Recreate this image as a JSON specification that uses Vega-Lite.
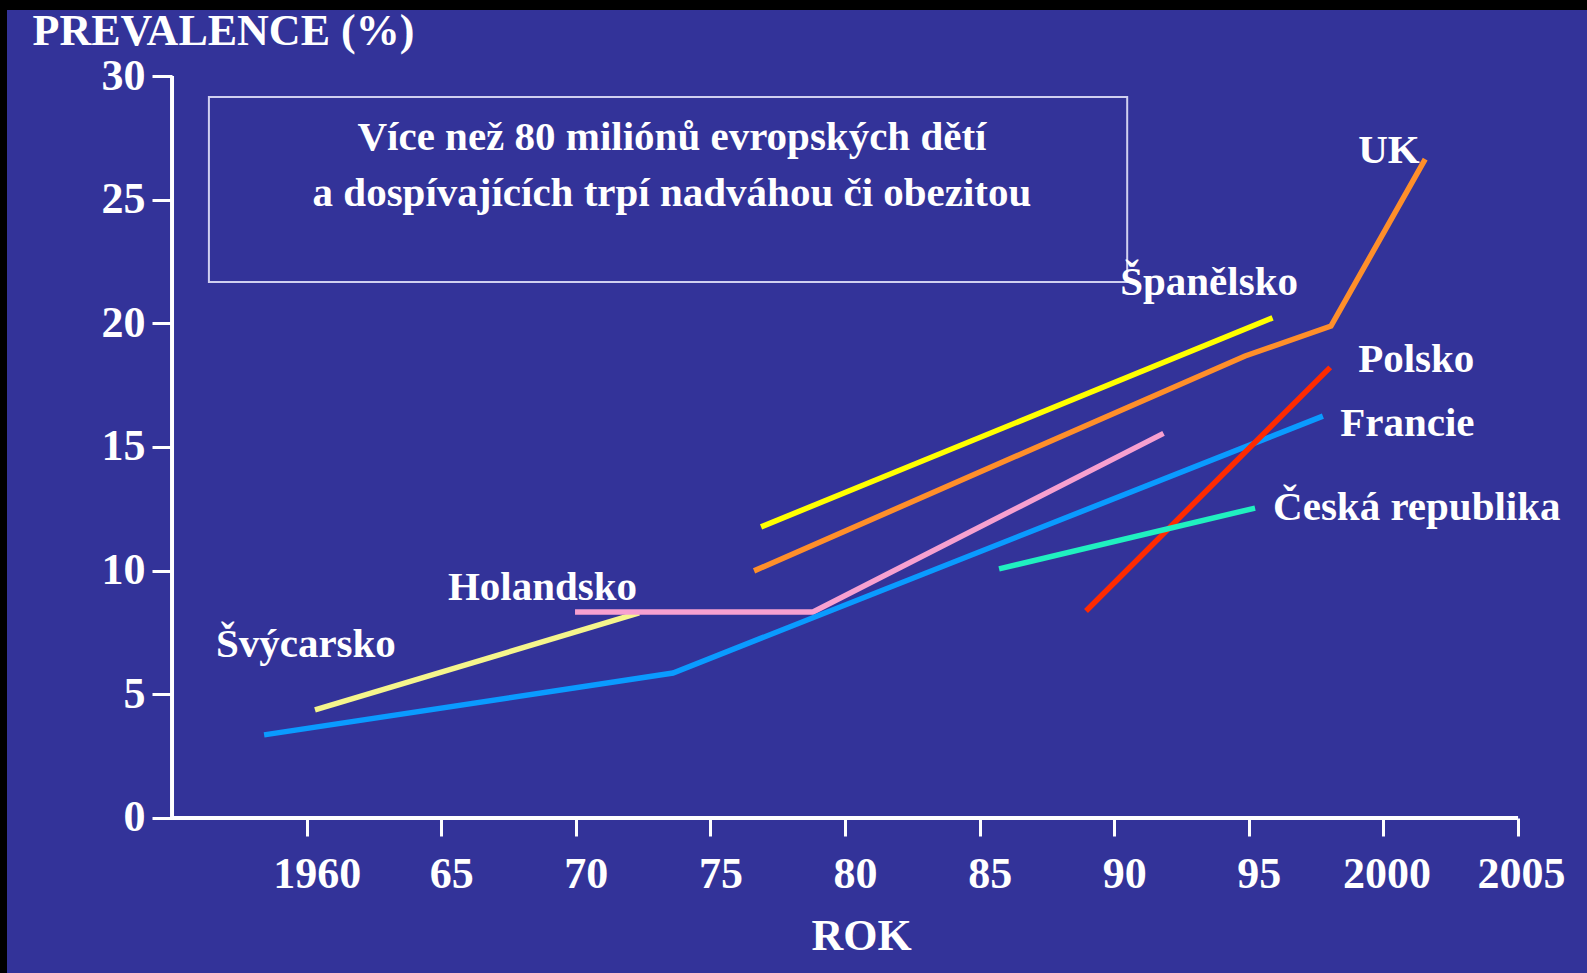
{
  "$schema": "https://vega.github.io/schema/vega-lite/v6.json",
  "width": 1580,
  "height": 963,
  "autosize": {"type": "none"},
  "padding": {"left": 7, "top": 10, "right": 0, "bottom": 0},
  "background": "#000000",
  "config": {
    "view": {"fill": "#333399", "stroke": null},
    "font": "Liberation Serif",
    "text": {"font": "Liberation Serif", "fontWeight": "bold", "color": "#ffffff"}
  },
  "encoding": {
    "x": {
      "field": "x", "type": "quantitative",
      "scale": {"domain": [1948.87, 2007.56], "nice": false, "zero": false},
      "axis": {
        "orient": "bottom", "offset": -155, "domain": false, "grid": false,
        "values": [1960, 1965, 1970, 1975, 1980, 1985, 1990, 1995, 2000, 2005],
        "labelExpr": "datum.value == 1960 || datum.value >= 2000 ? format(datum.value, 'd') : format(datum.value % 100, 'd')",
        "tickSize": 18, "tickWidth": 3, "tickColor": "#ffffff",
        "labelFont": "Liberation Serif", "labelFontWeight": "bold", "labelFontSize": 44, "labelColor": "#ffffff",
        "labelPadding": 16, "labelOverlap": false, "labelFlush": false,
        "labelOffset": {"condition": {"test": "datum.value >= 2000", "value": 3}, "value": 10},
        "title": "ROK", "titleFont": "Liberation Serif", "titleFontWeight": "bold", "titleFontSize": 44, "titleColor": "#ffffff",
        "titleX": 854, "titleY": 118, "titleBaseline": "middle", "titleAlign": "center"
      }
    },
    "y": {
      "field": "y", "type": "quantitative",
      "scale": {"domain": [-6.27, 32.67], "nice": false, "zero": false},
      "axis": {
        "orient": "left", "offset": -165, "domain": false, "grid": false,
        "values": [0, 5, 10, 15, 20, 25, 30],
        "tickSize": 20, "tickWidth": 3, "tickColor": "#ffffff",
        "labelFont": "Liberation Serif", "labelFontWeight": "bold", "labelFontSize": 44, "labelColor": "#ffffff",
        "labelPadding": 7, "labelDy": 5, "labelOverlap": false, "labelFlush": false,
        "title": "PREVALENCE (%)", "titleFont": "Liberation Serif", "titleFontWeight": "bold", "titleFontSize": 44, "titleColor": "#ffffff",
        "titleAngle": 0, "titleAlign": "left", "titleBaseline": "middle", "titleX": -140, "titleY": 21
      }
    }
  },
  "layer": [
    {
      "data": {"values": [{"x": 1956.37, "x2": 1990.48, "y": 29.15, "y2": 21.67}]},
      "mark": {"type": "rect", "fill": null, "fillOpacity": 0, "stroke": "#d0d0f0", "strokeWidth": 2},
      "encoding": {"x2": {"field": "x2"}, "y2": {"field": "y2"}}
    },
    {
      "data": {"values": [
        {"x": 1955, "x2": 2005, "y": 0, "y2": 0},
        {"x": 1955, "x2": 1955, "y": 0, "y2": 30}
      ]},
      "mark": {"type": "rule", "color": "#ffffff", "strokeWidth": 4},
      "encoding": {"x2": {"field": "x2"}, "y2": {"field": "y2"}}
    },
    {
      "data": {"values": [
        {"country": "Švýcarsko", "x": 1960.31, "y": 4.37},
        {"country": "Švýcarsko", "x": 1972.35, "y": 8.29},
        {"country": "Holandsko", "x": 1969.97, "y": 8.33},
        {"country": "Holandsko", "x": 1978.81, "y": 8.33},
        {"country": "Holandsko", "x": 1991.83, "y": 15.55},
        {"country": "Francie", "x": 1958.42, "y": 3.36},
        {"country": "Francie", "x": 1973.61, "y": 5.86},
        {"country": "Francie", "x": 1997.75, "y": 16.25},
        {"country": "Španělsko", "x": 1976.88, "y": 11.77},
        {"country": "Španělsko", "x": 1995.88, "y": 20.22},
        {"country": "UK", "x": 1976.62, "y": 9.99},
        {"country": "UK", "x": 1994.86, "y": 18.68},
        {"country": "UK", "x": 1998.05, "y": 19.89},
        {"country": "UK", "x": 2001.55, "y": 26.64},
        {"country": "Polsko", "x": 1988.95, "y": 8.37},
        {"country": "Polsko", "x": 1998.02, "y": 18.22},
        {"country": "Česká republika", "x": 1985.72, "y": 10.07},
        {"country": "Česká republika", "x": 1995.23, "y": 12.53}
      ]},
      "mark": {"type": "line", "strokeWidth": 5.5, "strokeCap": "butt", "strokeJoin": "miter"},
      "encoding": {
        "color": {
          "field": "country", "type": "nominal", "legend": null,
          "scale": {
            "domain": ["Švýcarsko", "Holandsko", "Francie", "Španělsko", "UK", "Polsko", "Česká republika"],
            "range": ["#f5f58c", "#f7a0d0", "#0a9bff", "#ffff00", "#ff8f2a", "#ff2a00", "#20f0c0"]
          }
        }
      }
    },
    {
      "data": {"values": [
        {"label": "UK", "x": 1999.06, "y": 26.97},
        {"label": "Španělsko", "x": 1990.22, "y": 21.63},
        {"label": "Polsko", "x": 1999.06, "y": 18.52},
        {"label": "Francie", "x": 1998.39, "y": 15.93},
        {"label": "Česká republika", "x": 1995.9, "y": 12.53},
        {"label": "Holandsko", "x": 1965.25, "y": 9.3},
        {"label": "Švýcarsko", "x": 1956.63, "y": 6.99}
      ]},
      "mark": {"type": "text", "align": "left", "baseline": "middle", "fontSize": 41},
      "encoding": {"text": {"field": "label"}}
    },
    {
      "data": {"values": [
        {"label": "Více než 80 miliónů evropských dětí", "x": 1973.57, "y": 27.49},
        {"label": "a dospívajících trpí nadváhou či obezitou", "x": 1973.57, "y": 25.23}
      ]},
      "mark": {"type": "text", "align": "center", "baseline": "middle", "fontSize": 41},
      "encoding": {"text": {"field": "label"}}
    }
  ]
}
